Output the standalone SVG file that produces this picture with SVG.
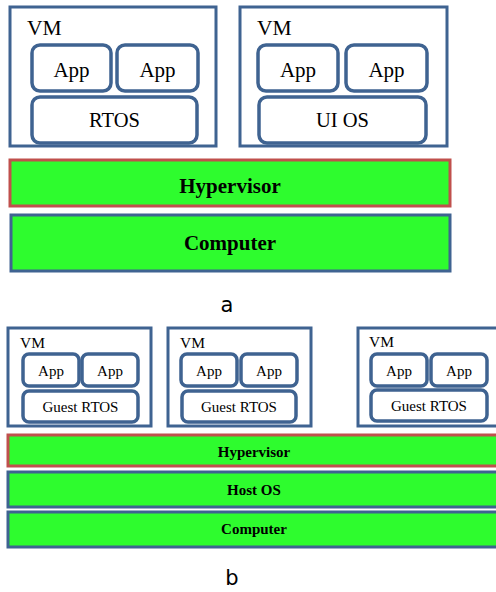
<svg xmlns="http://www.w3.org/2000/svg" width="496" height="592" viewBox="0 0 496 592">
<style>
.vm{fill:#fff;stroke:#3f6391;stroke-width:3}
.box{fill:#fff;stroke:#3f6391;stroke-width:3.5}
.hyp{fill:#2efc2e;stroke:#c0504d;stroke-width:3}
.base{fill:#2efc2e;stroke:#3f6391;stroke-width:3}
.t{font-family:"Liberation Serif",serif;fill:#000}
.tb{font-family:"Liberation Serif",serif;font-weight:bold;fill:#000}
.lab{font-family:"DejaVu Sans",sans-serif;fill:#000;font-size:21px}
</style>
<rect width="496" height="592" fill="#fff"/>
<g id="a-vm1">
<rect class="vm" x="10" y="7" width="206" height="139"/>
<text class="t" x="27" y="35" font-size="21.5">VM</text>
<rect class="box" x="32" y="45" width="79" height="46" rx="8"/>
<text class="t" x="71.5" y="77" font-size="21" text-anchor="middle">App</text>
<rect class="box" x="117" y="45" width="81" height="46" rx="8"/>
<text class="t" x="157.5" y="77" font-size="21" text-anchor="middle">App</text>
<rect class="box" x="32" y="97" width="165" height="46" rx="8"/>
<text class="t" x="114.5" y="127" font-size="20.5" text-anchor="middle">RTOS</text>
</g>
<g id="a-vm2">
<rect class="vm" x="240" y="7" width="207" height="139"/>
<text class="t" x="257" y="35" font-size="21.5">VM</text>
<rect class="box" x="258" y="45" width="80" height="46" rx="8"/>
<text class="t" x="298" y="77" font-size="21" text-anchor="middle">App</text>
<rect class="box" x="346" y="45" width="81" height="46" rx="8"/>
<text class="t" x="386.5" y="77" font-size="21" text-anchor="middle">App</text>
<rect class="box" x="259" y="97" width="167" height="46" rx="8"/>
<text class="t" x="342.5" y="127" font-size="20.5" text-anchor="middle">UI OS</text>
</g>
<g id="a-hypervisor">
<rect class="hyp" x="10" y="160" width="440" height="46"/>
<text class="tb" x="230" y="193" font-size="21" text-anchor="middle">Hypervisor</text>
</g>
<g id="a-computer">
<rect class="base" x="11" y="215" width="439" height="56"/>
<text class="tb" x="230" y="250" font-size="21" text-anchor="middle">Computer</text>
</g>
<text id="label-a" class="lab" x="227" y="312" text-anchor="middle">a</text>
<g id="b-vm1">
<rect class="vm" x="8" y="328" width="143" height="98"/>
<text class="t" x="20" y="348" font-size="15.5">VM</text>
<rect class="box" x="23" y="354" width="56" height="32" rx="6"/>
<text class="t" x="51" y="376" font-size="15" text-anchor="middle">App</text>
<rect class="box" x="82" y="354" width="56" height="32" rx="6"/>
<text class="t" x="110" y="376" font-size="15" text-anchor="middle">App</text>
<rect class="box" x="23" y="391" width="115" height="31" rx="6"/>
<text class="t" x="80.5" y="412" font-size="15" text-anchor="middle">Guest RTOS</text>
</g>
<g id="b-vm2">
<rect class="vm" x="168" y="328" width="143" height="98"/>
<text class="t" x="180" y="348" font-size="15.5">VM</text>
<rect class="box" x="181" y="354" width="56" height="32" rx="6"/>
<text class="t" x="209" y="376" font-size="15" text-anchor="middle">App</text>
<rect class="box" x="241" y="354" width="56" height="32" rx="6"/>
<text class="t" x="269" y="376" font-size="15" text-anchor="middle">App</text>
<rect class="box" x="182" y="391" width="114" height="31" rx="6"/>
<text class="t" x="239" y="412" font-size="15" text-anchor="middle">Guest RTOS</text>
</g>
<g id="b-vm3">
<rect class="vm" x="358" y="328" width="145" height="98"/>
<text class="t" x="369" y="347" font-size="15.5">VM</text>
<rect class="box" x="371" y="354" width="56" height="32" rx="6"/>
<text class="t" x="399" y="376" font-size="15" text-anchor="middle">App</text>
<rect class="box" x="431" y="354" width="56" height="32" rx="6"/>
<text class="t" x="459" y="376" font-size="15" text-anchor="middle">App</text>
<rect class="box" x="371" y="390" width="116" height="31" rx="6"/>
<text class="t" x="429" y="411" font-size="15" text-anchor="middle">Guest RTOS</text>
</g>
<g id="b-hypervisor">
<rect class="hyp" x="8" y="435" width="495" height="31"/>
<text class="tb" x="254" y="457" font-size="15" text-anchor="middle">Hypervisor</text>
</g>
<g id="b-hostos">
<rect class="base" x="8" y="472" width="495" height="35"/>
<text class="tb" x="254" y="495" font-size="15" text-anchor="middle">Host OS</text>
</g>
<g id="b-computer">
<rect class="base" x="8" y="512" width="495" height="35"/>
<text class="tb" x="254" y="534" font-size="15" text-anchor="middle">Computer</text>
</g>
<text id="label-b" class="lab" x="232" y="585" text-anchor="middle">b</text>
<g id="connectors"/>
</svg>
